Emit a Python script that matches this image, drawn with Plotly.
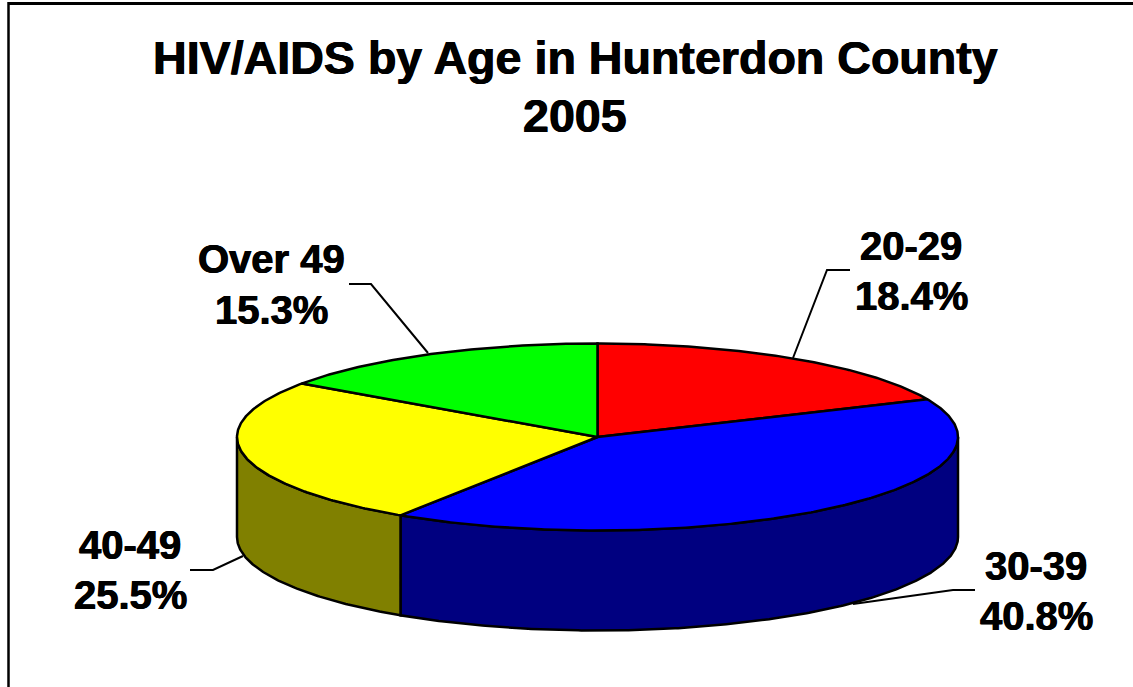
import math
import plotly.graph_objects as go

categories = ["20-29", "30-39", "40-49", "Over 49"]
shares = [18.4, 40.8, 25.5, 15.3]
top_colors = ["#ff0000", "#0000ff", "#ffff00", "#00ff00"]
side_colors = ["#800000", "#000080", "#808000", "#008000"]
title_lines = ["HIV/AIDS by Age in Hunterdon County", "2005"]

CX, CY, RX, RY, DEPTH = 597.5, 437, 360.5, 93.5, 100
W, H = 1133, 687
LINE = dict(color="black", width=2.5)


def rim(a0, a1, dy=0.0):
    n = max(2, int(abs(a1 - a0)) * 2)
    pts = [a0 + (a1 - a0) * i / n for i in range(n + 1)]
    return ([CX + RX * math.sin(math.radians(p)) for p in pts],
            [CY + dy - RY * math.cos(math.radians(p)) for p in pts])


fig = go.Figure()
start = 0.0
spans = []
for s in shares:
    spans.append((start, start + s * 3.6))
    start += s * 3.6

# front wall of the disc
for (a0, a1), col in zip(spans, side_colors):
    lo, hi = max(a0, 90), min(a1, 270)
    if lo < hi:
        x1, y1 = rim(lo, hi)
        x2, y2 = rim(hi, lo, DEPTH)
        fig.add_trace(go.Scatter(x=x1 + x2 + x1[:1], y=y1 + y2 + y1[:1], mode="lines",
                                 fill="toself", fillcolor=col, line=LINE, hoverinfo="skip"))
# top slices
for (a0, a1), col, cat in zip(spans, top_colors, categories):
    x1, y1 = rim(a0, a1)
    fig.add_trace(go.Scatter(x=[CX] + x1 + [CX], y=[CY] + y1 + [CY], mode="lines", name=cat,
                             fill="toself", fillcolor=col, line=LINE, hoverinfo="skip"))

# leader lines
leaders = [
    ([793, 827, 850], [358, 270, 270]),
    ([853, 953, 975], [604, 590, 590]),
    ([243, 213, 190], [556, 570, 570]),
    ([428, 371, 349], [353, 284, 284]),
]
for lx, ly in leaders:
    fig.add_trace(go.Scatter(x=lx, y=ly, mode="lines", line=dict(color="black", width=2),
                             hoverinfo="skip"))

FONT = "Liberation Sans, Arial, sans-serif"
HEAVY = "0.5px 0 0 black, -0.5px 0 0 black"
label_pos = [(911, 246, 296), (1036, 566, 616), (130, 545, 595), (271, 259, 310)]
ann = []
for cat, s, (x, y1, y2) in zip(categories, shares, label_pos):
    ann.append(dict(x=x, y=y1, text=f"<b>{cat}</b>"))
    ann.append(dict(x=x, y=y2, text=f"<b>{s:.1f}%</b>"))
for a in ann:
    a.update(font=dict(family=FONT, size=40, color="black", shadow=HEAVY))
for t, y in zip(title_lines, (58, 116)):
    ann.append(dict(x=575, y=y, text=f"<b>{t}</b>",
                    font=dict(family=FONT, size=46.6, color="black", shadow=HEAVY)))
for a in ann:
    a.update(xref="x", yref="y", showarrow=False, xanchor="center", yanchor="middle")

shapes = [
    dict(type="line", xref="x", yref="y", x0=8, y0=3.5, x1=W, y1=3.5, line=dict(color="black", width=3)),
    dict(type="line", xref="x", yref="y", x0=8.5, y0=2, x1=8.5, y1=H, line=dict(color="black", width=2.5)),
]

fig.update_layout(
    width=W, height=H, margin=dict(l=0, r=0, t=0, b=0), showlegend=False,
    paper_bgcolor="white", plot_bgcolor="white",
    xaxis=dict(range=[0, W], visible=False, fixedrange=True),
    yaxis=dict(range=[H, 0], visible=False, fixedrange=True),
    annotations=ann, shapes=shapes,
)
fig.write_html("out.html", config=dict(displayModeBar=False),
               post_script="document.body.style.margin='0';document.body.style.overflow='hidden';")
